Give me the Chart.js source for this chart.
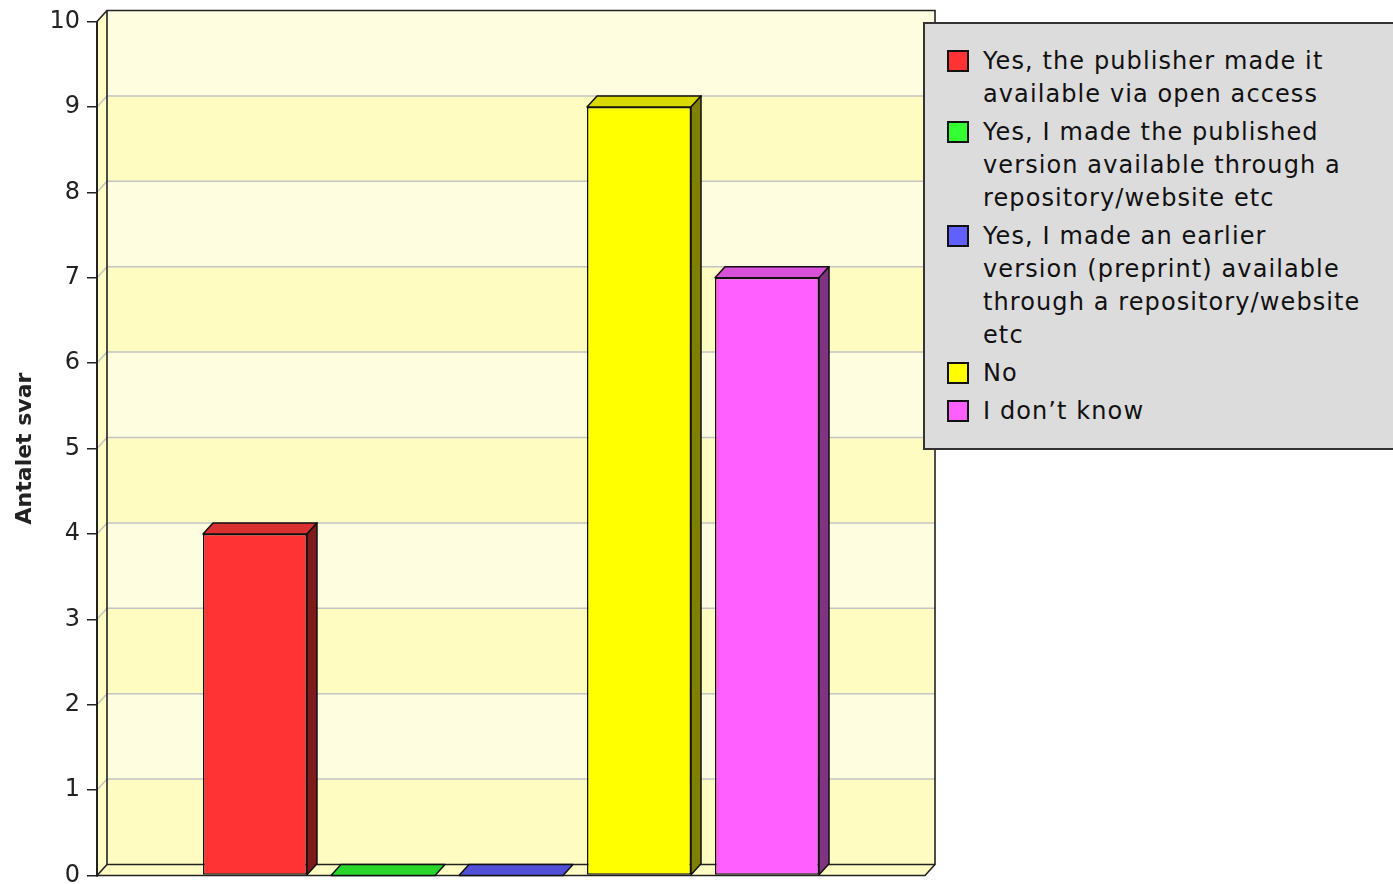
<!DOCTYPE html>
<html>
<head>
<meta charset="utf-8">
<script src="https://cdn.jsdelivr.net/npm/chart.js@4/dist/chart.umd.min.js"></script>
<style>
  html, body { margin: 0; padding: 0; background: #fff; overflow: hidden; }
  #wrap { position: relative; width: 1393px; height: 884px; overflow: hidden; }
  #chart { position: absolute; left: 0; top: 0; }
  #legend {
    position: absolute; left: 923px; top: 22px; width: 480px; height: 428px;
    box-sizing: border-box; background: #dcdcdc; border: 2px solid #333;
    padding: 21px 0 0 22px; font-family: "DejaVu Sans", sans-serif; font-size: 24px;
    letter-spacing: 1.1px; color: #111;
  }
  .item { display: flex; align-items: flex-start; margin-bottom: 5px; }
  .sw { width: 18px; height: 18px; border: 2px solid #111; margin-top: 5px; flex: none; }
  .txt { margin-left: 14px; width: 378px; line-height: 33px; }
</style>
</head>
<body>
<div id="wrap">
  <canvas id="chart" width="1393" height="910"></canvas>
  <div id="legend"></div>
</div>
<script>
// one category, five answer series
const seriesNames = [
    "Yes, the publisher made it available via open access",
    "Yes, I made the published version available through a repository/website etc",
    "Yes, I made an earlier version (preprint) available through a repository/website etc",
    "No",
    "I don\u2019t know"
];
const seriesValues = [4, 0, 0, 9, 7];
const yTicks = [0, 1, 2, 3, 4, 5, 6, 7, 8, 9, 10];
const axisTitle = "Antalet svar";

// front / top / side colours
const frontColors = ["#ff3333", "#33ff33", "#6060ff", "#ffff00", "#ff5fff"];
const topColors = ["#d93030", "#2bd62b", "#5050d8", "#d9d900", "#d950d9"];
const sideColors = ["#7f1a1a", "#1a801a", "#30307f", "#808000", "#803380"];

const DX = 10, DY = 11;

let legend = document.getElementById("legend");
seriesNames.forEach(function (name, i) {
    let item = document.createElement("div");
    item.className = "item";
    item.innerHTML = '<div class="sw" style="background:' + frontColors[i] + '"></div><div class="txt"></div>';
    item.querySelector(".txt").textContent = name;
    legend.appendChild(item);
});

const walls = {
    id: "walls",
    beforeDatasetsDraw: function (chart) {
        let ctx = chart.ctx, a = chart.chartArea, y = chart.scales.y;
        let l = a.left, r = a.right, t = a.top, b = a.bottom;
        ctx.save();
        // back wall bands
        for (let v = 0; v < yTicks.length - 1; v++) {
            let y0 = y.getPixelForValue(yTicks[v]) - DY, y1 = y.getPixelForValue(yTicks[v + 1]) - DY;
            ctx.fillStyle = v % 2 === 0 ? "#fffcc2" : "#fffde0";
            ctx.fillRect(l + DX, y1, r - l, y0 - y1);
        }
        // left wall + floor
        ctx.fillStyle = "#fffcc4";
        ctx.beginPath();
        ctx.moveTo(l, t); ctx.lineTo(l + DX, t - DY); ctx.lineTo(l + DX, b - DY); ctx.lineTo(l, b);
        ctx.closePath(); ctx.fill();
        ctx.beginPath();
        ctx.moveTo(l, b); ctx.lineTo(l + DX, b - DY); ctx.lineTo(r + DX, b - DY); ctx.lineTo(r, b);
        ctx.closePath(); ctx.fill();
        // grid lines
        ctx.strokeStyle = "#c4c4c4";
        ctx.lineWidth = 1.5;
        for (let v = 1; v < yTicks.length - 1; v++) {
            let py = y.getPixelForValue(yTicks[v]);
            ctx.beginPath();
            ctx.moveTo(l, py); ctx.lineTo(l + DX, py - DY); ctx.lineTo(r + DX, py - DY);
            ctx.stroke();
        }
        // outline
        ctx.strokeStyle = "#222";
        ctx.lineWidth = 1.6;
        ctx.beginPath();
        ctx.moveTo(l, t); ctx.lineTo(l + DX, t - DY); ctx.lineTo(r + DX, t - DY);
        ctx.lineTo(r + DX, b - DY); ctx.lineTo(r, b); ctx.lineTo(l, b); ctx.closePath();
        ctx.moveTo(l + DX, t - DY); ctx.lineTo(l + DX, b - DY); ctx.lineTo(r + DX, b - DY);
        ctx.moveTo(l, b); ctx.lineTo(l + DX, b - DY);
        ctx.stroke();
        ctx.lineWidth = 2;
        ctx.beginPath(); ctx.moveTo(l, t); ctx.lineTo(l, b + 1); ctx.stroke();
        ctx.restore();
    },
    afterDatasetsDraw: function (chart) {
        let ctx = chart.ctx;
        ctx.save();
        ctx.strokeStyle = "#111";
        ctx.lineWidth = 1.5;
        ctx.lineJoin = "round";
        chart.data.datasets.forEach(function (ds, i) {
            let bar = chart.getDatasetMeta(i).data[0];
            let p = bar.getProps(["x", "y", "base", "width"], true);
            let x0 = p.x - p.width / 2, x1 = p.x + p.width / 2;
            // top
            ctx.fillStyle = topColors[i];
            ctx.beginPath();
            ctx.moveTo(x0, p.y); ctx.lineTo(x0 + DX, p.y - DY); ctx.lineTo(x1 + DX, p.y - DY); ctx.lineTo(x1, p.y);
            ctx.closePath(); ctx.fill(); ctx.stroke();
            // side
            if (p.base - p.y > 0.5) {
                ctx.fillStyle = sideColors[i];
                ctx.beginPath();
                ctx.moveTo(x1, p.y); ctx.lineTo(x1 + DX, p.y - DY); ctx.lineTo(x1 + DX, p.base - DY); ctx.lineTo(x1, p.base);
                ctx.closePath(); ctx.fill(); ctx.stroke();
            }
        });
        ctx.restore();
    }
};

new Chart(document.getElementById("chart").getContext("2d"), {
    type: "bar",
    data: {
        labels: [""],
        datasets: seriesNames.map(function (name, i) {
            return {
                label: name,
                data: [seriesValues[i]],
                backgroundColor: frontColors[i],
                borderColor: "#111",
                borderWidth: seriesValues[i] > 0 ? 1.5 : 0,
                borderSkipped: false,
                categoryPercentage: 0.773,
                barPercentage: 0.8125
            };
        })
    },
    options: {
        responsive: false,
        animation: false,
        events: [],
        layout: { padding: { left: 0, top: 21.5, right: 468, bottom: 34.5 } },
        plugins: { legend: { display: false }, tooltip: { enabled: false } },
        scales: {
            x: { display: false },
            y: {
                min: 0,
                max: 10,
                ticks: {
                    stepSize: 1,
                    color: "#222",
                    padding: 7,
                    font: { family: "DejaVu Sans", size: 24 }
                },
                grid: { drawOnChartArea: false, drawTicks: true, tickLength: 10, color: "#222", lineWidth: 1.5 },
                border: { color: "#222", width: 2 },
                title: {
                    display: true,
                    text: axisTitle,
                    color: "#222",
                    padding: { top: 12, bottom: 0 },
                    font: { family: "DejaVu Sans", size: 22, weight: "bold" }
                },
                afterFit: function (s) { s.width = 97; }
            }
        }
    },
    plugins: [walls]
});
</script>
</body>
</html>
